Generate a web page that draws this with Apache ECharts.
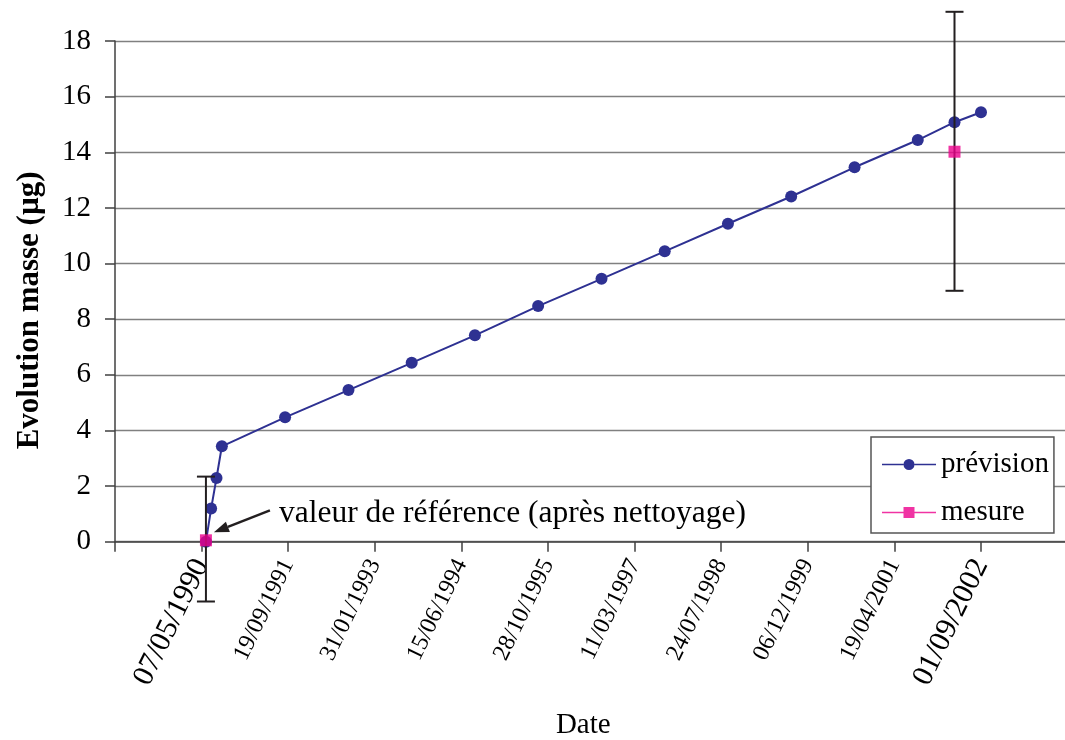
<!DOCTYPE html>
<html><head><meta charset="utf-8">
<script src="https://cdn.jsdelivr.net/npm/echarts@6/dist/echarts.min.js"></script>
<style>html,body{margin:0;padding:0;background:#fff}#c{width:1065px;height:740px}</style>
</head><body><div id="c"></div>
<script>
// ---- data ----
const tickLabels = ['07/05/1990','19/09/1991','31/01/1993','15/06/1994','28/10/1995','11/03/1997','24/07/1998','06/12/1999','19/04/2001','01/09/2002'];
const bigTickLabels = ['07/05/1990','01/09/2002'];
const tickIntervalDays = 500;
const previsionDates = ['1990-06-01','1990-07-01','1990-08-01','1990-09-01','1991-09-01','1992-09-01','1993-09-01','1994-09-01','1995-09-01','1996-09-01','1997-09-01','1998-09-01','1999-09-01','2000-09-01','2001-09-01','2002-04-01','2002-09-01'];
const previsionValues = [0, 1.19, 2.29, 3.43, 4.47, 5.45, 6.43, 7.42, 8.47, 9.45, 10.44, 11.43, 12.41, 13.46, 14.44, 15.08, 15.44];
const mesureDates = ['1990-06-01','2002-04-01'];
const mesureValues = [0.05, 14.02];
const mesureLow = [-2.15, 9.02];
const mesureHigh = [2.34, 19.05];
const yMin = 0, yMax = 18, yInterval = 2;
const annotationText = 'valeur de référence (après nettoyage)';

// ---- helpers ----
const DAY = 86400000;
function parseDMY(s){const [d,m,y]=s.split('/').map(Number);return Date.UTC(y,m-1,d);}
function parseISO(s){const [y,m,d]=s.split('-').map(Number);return Date.UTC(y,m-1,d);}
const epoch = parseDMY(tickLabels[0]) - tickIntervalDays*DAY;
const toDays = s => Math.round((parseISO(s)-epoch)/DAY);
const xMax = (tickLabels.length+1)*tickIntervalDays;

const FONT = 'Liberation Serif';
const BLUE = '#2E3192', PINK = '#EC008C';

const prevData = previsionDates.map((d,i)=>[toDays(d), previsionValues[i]]);
const mesData = mesureDates.map((d,i)=>[toDays(d), mesureValues[i]]);
const errData = mesureDates.map((d,i)=>[toDays(d), mesureLow[i], mesureHigh[i]]);

const chart = echarts.init(document.getElementById('c'), null, {renderer:'canvas'});
chart.setOption({
  animation:false,
  backgroundColor:'#fff',
  grid:{left:115, top:41, width:952.6, height:500.7, containLabel:false, outerBoundsMode:'none'},
  xAxis:{
    type:'value', min:0, max:xMax, interval:tickIntervalDays,
    name:'Date', nameLocation:'middle', nameGap:169,
    nameTextStyle:{fontFamily:FONT, fontSize:29, color:'#000', padding:[0,16,0,0]},
    axisLine:{show:true, onZero:true, lineStyle:{color:'#404040', width:1.5}},
    axisTick:{show:true, length:10, lineStyle:{color:'#404040', width:1.5}},
    splitLine:{show:false},
    axisLabel:{
      rotate:64, margin:19, color:'#000', fontFamily:FONT, showMinLabel:true, showMaxLabel:true,
      formatter:function(v){
        const i = Math.round(v/tickIntervalDays) - 1;
        if (i<0 || i>=tickLabels.length) return '';
        const s = tickLabels[i];
        return bigTickLabels.indexOf(s)>=0 ? '{big|'+s+'}' : '{small|'+s+'}';
      },
      rich:{
        big:{fontFamily:FONT, fontSize:30, color:'#000'},
        small:{fontFamily:FONT, fontSize:24, color:'#000'}
      }
    }
  },
  yAxis:{
    type:'value', min:yMin, max:yMax, interval:yInterval,
    name:'Evolution masse (µg)', nameLocation:'middle', nameGap:70,
    nameTextStyle:{fontFamily:FONT, fontSize:31, fontWeight:'bold', color:'#000', padding:[0,38,0,0]},
    axisLine:{show:true, lineStyle:{color:'#404040', width:1.5}},
    axisTick:{show:true, length:10, lineStyle:{color:'#404040', width:1.5}},
    splitLine:{show:true, lineStyle:{color:'#808080', width:1.3}},
    axisLabel:{fontFamily:FONT, fontSize:29, color:'#000', margin:24}
  },
  legend:{
    orient:'vertical', left:871, top:437,
    data:[
      {name:'prévision', icon:'path://M0,5h21.5v1.5h-21.5zM32.5,5h21.5v1.5h-21.5zM32.5,5.75A5.5,5.5,0,1,1,21.5,5.75A5.5,5.5,0,1,1,32.5,5.75Z'},
      {name:'mesure', icon:'path://M0,5h21.5v1.5h-21.5zM32.5,5h21.5v1.5h-21.5zM21.5,0.25h11v11h-11z'}
    ],
    itemWidth:54, itemHeight:11.5, itemGap:19,
    textStyle:{fontFamily:FONT, fontSize:29, color:'#000'},
    backgroundColor:'#fff', borderColor:'#555', borderWidth:1.5, borderRadius:0,
    padding:[13,5,6,11]
  },
  series:[
    {
      name:'prévision', type:'line', data:prevData, symbol:'circle', symbolSize:12,
      itemStyle:{color:BLUE}, lineStyle:{color:BLUE, width:2}, z:2
    },
    {
      name:'err', type:'custom', data:errData, clip:false, z:3, silent:true,
      encode:{x:0, y:[1,2]},
      renderItem:function(params, api){
        const x = api.value(0);
        const lo = api.coord([x, api.value(1)]);
        const hi = api.coord([x, api.value(2)]);
        const w = 9;
        const st = {stroke:'#231F20', lineWidth:2};
        return {type:'group', children:[
          {type:'line', shape:{x1:lo[0], y1:lo[1], x2:hi[0], y2:hi[1]}, style:st},
          {type:'line', shape:{x1:lo[0]-w, y1:lo[1], x2:lo[0]+w, y2:lo[1]}, style:st},
          {type:'line', shape:{x1:hi[0]-w, y1:hi[1], x2:hi[0]+w, y2:hi[1]}, style:st}
        ]};
      }
    },
    {
      name:'mesure', type:'scatter', data:mesData, symbol:'rect', symbolSize:12,
      itemStyle:{color:PINK}, z:4
    }
  ]
});

// annotation anchored to the reference measurement
const p = chart.convertToPixel({gridIndex:0}, mesData[0]);
const tip = [p[0]+8, p[1]-8], tail = [p[0]+64, p[1]-30];
const ang = Math.atan2(tip[1]-tail[1], tip[0]-tail[0]);
const L = 15, W = 5.5;
const base = [tip[0]-L*Math.cos(ang), tip[1]-L*Math.sin(ang)];
const nx = -Math.sin(ang), ny = Math.cos(ang);
chart.setOption({
  graphic:[
    {type:'line', shape:{x1:tail[0], y1:tail[1], x2:base[0], y2:base[1]}, style:{stroke:'#231F20', lineWidth:2.5}, z:10},
    {type:'polygon', shape:{points:[tip,[base[0]+nx*W, base[1]+ny*W],[base[0]-nx*W, base[1]-ny*W]]}, style:{fill:'#231F20'}, z:10},
    {type:'text', x:p[0]+73, y:p[1]-27, style:{text:annotationText, font:'31.5px "Liberation Serif"', fill:'#000', textVerticalAlign:'middle', verticalAlign:'middle'}, z:10}
  ]
});
</script></body></html>
